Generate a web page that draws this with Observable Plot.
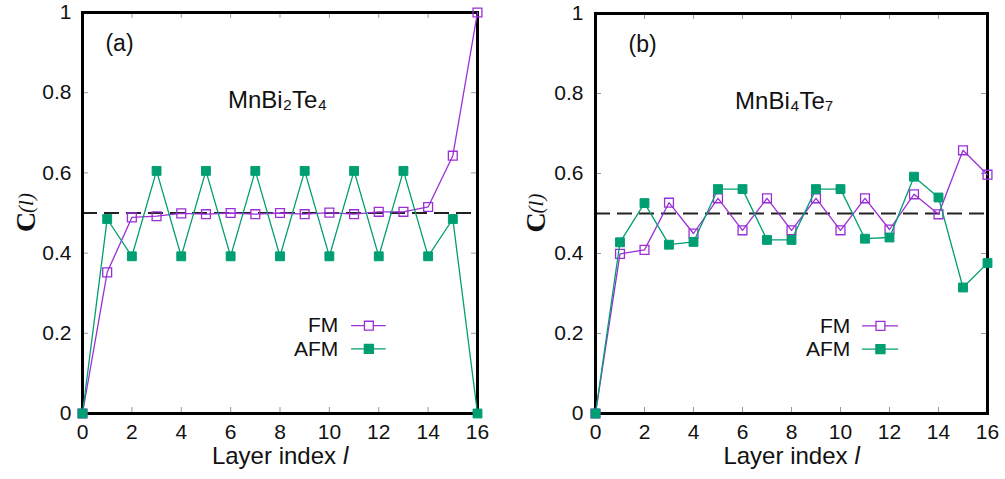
<!DOCTYPE html>
<html>
<head>
<meta charset="utf-8">
<script src="https://cdn.jsdelivr.net/npm/d3@7"></script>
<script src="https://cdn.jsdelivr.net/npm/@observablehq/plot@0.6"></script>
<style>
  html, body { margin: 0; padding: 0; background: #fff; }
  #wrap { display: flex; flex-direction: row; width: 1005px; height: 479px; }
</style>
</head>
<body>
<div id="wrap"></div>
<script>
// ---- data ----
const layers = [0, 1, 2, 3, 4, 5, 6, 7, 8, 9, 10, 11, 12, 13, 14, 15, 16];
const fmA  = [0, 0.352, 0.489, 0.492, 0.499, 0.497, 0.500, 0.497, 0.500, 0.497, 0.501, 0.497, 0.503, 0.503, 0.515, 0.643, 1.0];
const afmA = [0, 0.485, 0.392, 0.605, 0.392, 0.605, 0.392, 0.605, 0.392, 0.605, 0.392, 0.605, 0.392, 0.605, 0.392, 0.485, 0];
const fmB  = [0, 0.399, 0.409, 0.527, 0.450, 0.538, 0.458, 0.538, 0.458, 0.538, 0.458, 0.538, 0.460, 0.548, 0.498, 0.658, 0.597];
const afmB = [0, 0.428, 0.526, 0.422, 0.429, 0.561, 0.561, 0.434, 0.434, 0.561, 0.561, 0.437, 0.440, 0.592, 0.540, 0.315, 0.376];
const seriesNames = ["FM", "AFM"];
const xTicks = [0, 2, 4, 6, 8, 10, 12, 14, 16];
const yTicks = [0, 0.2, 0.4, 0.6, 0.8, 1];
const yTickLabels = ["0", "0.2", "0.4", "0.6", "0.8", "1"];
const panelTags = ["(a)", "(b)"];
const compounds = ["MnBi₂Te₄", "MnBi₄Te₇"];
const refLevel = 0.5;

const purple = "#9a2fd6";
const green = "#009e73";
const sans = "Liberation Sans, Arial, Helvetica, sans-serif";
const serif = "Liberation Serif, Times New Roman, serif";

function rows(vals) { return layers.map((l, i) => ({l, v: vals[i]})); }

function panel({fm, afm, tag, compound, width, mL, mR, mT, mB, tickPad, yLabDx, legend, tagX, compX}) {
  const height = 479;
  const fh = height - mT - mB;
  const fw = width - mL - mR;
  const leg = [
    {name: seriesNames[0], y: legend.yFM},
    {name: seriesNames[1], y: legend.yAFM}
  ];
  return Plot.plot({
    width, height,
    marginLeft: mL, marginRight: mR, marginTop: mT, marginBottom: mB,
    style: {fontFamily: sans, fontSize: "21px", color: "#111", background: "#fff"},
    x: {domain: [0, 16]},
    y: {domain: [0, 1]},
    marks: [
      Plot.ruleY([refLevel], {stroke: "#222", strokeWidth: 2, strokeDasharray: "15,7"}),
      // inward ticks on all four sides
      Plot.tickX(xTicks, {x: d => d, insetTop: fh - 6, stroke: "#999", strokeWidth: 1}),
      Plot.tickX(xTicks, {x: d => d, insetBottom: fh - 6, stroke: "#999", strokeWidth: 1}),
      Plot.tickY(yTicks, {y: d => d, insetRight: fw - 6, stroke: "#999", strokeWidth: 1}),
      Plot.tickY(yTicks, {y: d => d, insetLeft: fw - 6, stroke: "#999", strokeWidth: 1}),
      Plot.axisX({ticks: xTicks, tickSize: 0, tickPadding: 11, label: null, fontSize: 21}),
      Plot.axisY({ticks: yTicks, tickSize: 0, tickPadding: tickPad, label: null, fontSize: 21,
                  tickFormat: d => yTickLabels[yTicks.indexOf(d)]}),
      Plot.frame({stroke: "#000", strokeWidth: 3}),
      // series
      Plot.line(rows(fm), {x: "l", y: "v", stroke: purple, strokeWidth: 1.3}),
      Plot.dot(rows(fm), {x: "l", y: "v", symbol: "square", r: 5, stroke: purple, strokeWidth: 1.3, fill: "none"}),
      Plot.line(rows(afm), {x: "l", y: "v", stroke: green, strokeWidth: 1.3}),
      Plot.dot(rows(afm), {x: "l", y: "v", symbol: "square", r: 5, stroke: green, strokeWidth: 1, fill: green}),
      // legend
      Plot.text(leg, {x: legend.textX, y: "y", text: "name", textAnchor: "end", fontSize: 21}),
      Plot.ruleY([leg[0]], {x1: legend.x1, x2: legend.x2, y: "y", stroke: purple, strokeWidth: 1.3}),
      Plot.dot([leg[0]], {x: legend.xm, y: "y", symbol: "square", r: 5, stroke: purple, strokeWidth: 1.3, fill: "#fff"}),
      Plot.ruleY([leg[1]], {x1: legend.x1, x2: legend.x2, y: "y", stroke: green, strokeWidth: 1.3}),
      Plot.dot([leg[1]], {x: legend.xm, y: "y", symbol: "square", r: 5, stroke: green, fill: green}),
      // annotations
      Plot.text([tag], {x: tagX, y: 0.922, text: d => d, textAnchor: "start", fontSize: 23}),
      Plot.text([compound], {x: compX, y: 0.78, text: d => d, textAnchor: "middle", fontSize: 24}),
      // axis titles
      Plot.text(["Layer index"], {frameAnchor: "bottom", dx: 56, dy: 50, textAnchor: "end", fontSize: 24}),
      Plot.text(["l"], {frameAnchor: "bottom", dx: 63, dy: 50, textAnchor: "start", fontSize: 24, fontStyle: "italic"}),
      Plot.text(["C"], {frameAnchor: "left", dx: yLabDx, dy: 9, rotate: -90, textAnchor: "middle",
                        fontFamily: serif, fontWeight: "bold", fontSize: 28}),
      Plot.text(["(l)"], {frameAnchor: "left", dx: yLabDx, dy: -10, rotate: -90, textAnchor: "middle",
                          fontFamily: serif, fontStyle: "italic", fontSize: 21})
    ]
  });
}

const wrap = document.getElementById("wrap");
wrap.append(panel({
  fm: fmA, afm: afmA, tag: panelTags[0], compound: compounds[0],
  width: 502, mL: 82, mR: 25, mT: 12, mB: 66, tickPad: 11, yLabDx: -56,
  legend: {textX: 10.36, x1: 10.9, x2: 12.3, xm: 11.6, yFM: 0.219, yAFM: 0.161},
  tagX: 0.93, compX: 7.9
}));
wrap.append(panel({
  fm: fmB, afm: afmB, tag: panelTags[1], compound: compounds[1],
  width: 503, mL: 93, mR: 18, mT: 13, mB: 66, tickPad: 12, yLabDx: -59,
  legend: {textX: 10.4, x1: 10.9, x2: 12.37, xm: 11.63, yFM: 0.219, yAFM: 0.161},
  tagX: 1.35, compX: 7.7
}));
</script>
</body>
</html>
